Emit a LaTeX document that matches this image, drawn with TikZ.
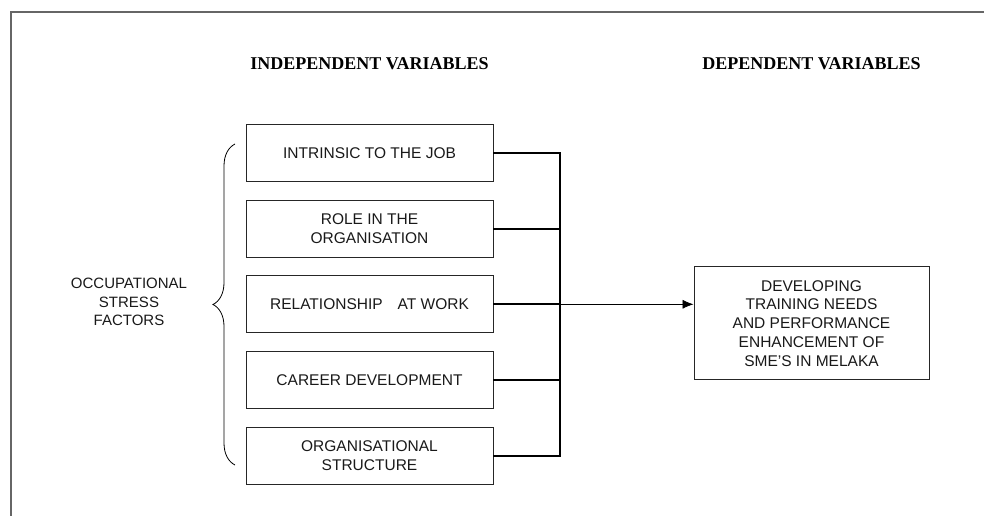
\documentclass[tikz,border=0pt]{standalone}
\usepackage{fontspec}
\setmainfont{Liberation Serif}
\setsansfont{Liberation Sans}
\usetikzlibrary{shapes.misc, arrows.meta, decorations.pathreplacing}

\begin{document}
\begin{tikzpicture}[x=1pt, y=-1pt,
        factor/.style={draw=black!85, line width=0.9pt, minimum width=247pt, minimum height=57pt,
            inner sep=0pt, align=center, text=black!90, font=\sffamily\fontsize{15.5}{18.7}\selectfont},
        outcome/.style={factor, minimum width=235pt, minimum height=113pt},
        heading/.style={text=black, font=\rmfamily\bfseries\fontsize{18}{20}\selectfont},
        link/.style={line width=1.8pt, line join=miter}]
        \useasboundingbox (0, 0) rectangle (984, 516);
        \draw[black!60, line width=1.4pt] (11, 516) -- (11, 12) -- (984, 12);

        \node[heading] (indep) at (369.5, 64) {INDEPENDENT VARIABLES};
        \node[heading] (dep) at (811.5, 64) {DEPENDENT VARIABLES};

        \node[factor] (job) at (369.5, 153.3) {INTRINSIC TO THE JOB};
        \node[factor] (role) at (369.5, 229) {ROLE IN THE\\ORGANISATION};
        \node[factor] (rel) at (369.5, 304.3) {RELATIONSHIP\hspace{15pt}AT WORK};
        \node[factor] (career) at (369.5, 380.3) {CAREER DEVELOPMENT};
        \node[factor] (struct) at (369.5, 455.8) {ORGANISATIONAL\\STRUCTURE};

        \node[outcome] (dev) at (811.5, 323.3) {DEVELOPING\\TRAINING NEEDS\\AND PERFORMANCE\\ENHANCEMENT OF\\SME'S IN MELAKA};

        \node[align=center, text=black!90, font=\sffamily\fontsize{15}{18.7}\selectfont] (stress) at (129, 302) {OCCUPATIONAL\\STRESS\\FACTORS};

        % brace round the five factors
        \coordinate (braceTop) at (235, 144);
        \coordinate (braceBot) at (235, 465);
        \draw[decorate, decoration={brace, amplitude=22pt}, line width=0.8pt] (braceBot) -- (braceTop);

        % bus from the factors to the outcome
        \coordinate (bus) at (560, 0);
        \draw[link] (job.east) -| (struct.east -| bus) -- (struct.east);
        \draw[link] (role.east) -- (role.east -| bus);
        \draw[link] (rel.east) -- (rel.east -| bus);
        \draw[link] (career.east) -- (career.east -| bus);
        \draw[line width=0.7pt, -{Latex[length=11pt, width=9pt]}] (rel.east -| bus) -- (rel.east -| dev.west);
    \end{tikzpicture}
\end{document}
